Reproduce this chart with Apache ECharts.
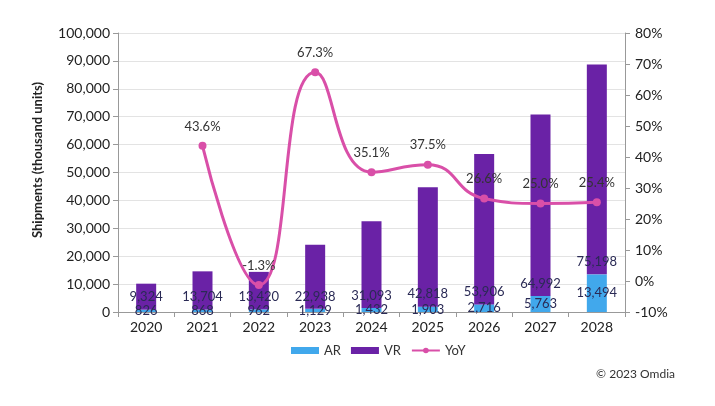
<!DOCTYPE html>
<html>
<head>
<meta charset="utf-8">
<script src="https://cdn.jsdelivr.net/npm/echarts@6/dist/echarts.min.js"></script>
<style>
html,body{margin:0;padding:0;background:#fff;}
#c{width:715px;height:406px;}
</style>
</head>
<body>
<div id="c"></div>
<script>
var years = ['2020','2021','2022','2023','2024','2025','2026','2027','2028'];
var arValues = [826, 868, 962, 1129, 1432, 1903, 2716, 5763, 13494];
var vrValues = [9324, 13704, 13420, 22938, 31093, 42818, 53906, 64992, 75198];
var yoyValues = [null, 43.6, -1.3, 67.3, 35.1, 37.5, 26.6, 25.0, 25.4];

var font = 'Lato';
var chart = echarts.init(document.getElementById('c'));
var fmt = function (v) { return v.toLocaleString('en-US'); };
chart.setOption({
  animation: false,
  textStyle: { fontFamily: font },
  grid: { left: 118, right: 90, top: 33, bottom: 94 },
  legend: {
    bottom: 44,
    left: 286,
    itemWidth: 28,
    itemHeight: 7,
    itemGap: 10,
    textStyle: { fontSize: 13, color: '#333', fontFamily: font },
    data: [
      { name: 'AR', icon: 'rect' },
      { name: 'VR', icon: 'rect' },
      { name: 'YoY' }
    ]
  },
  graphic: [{
    type: 'text', right: 40, top: 368,
    style: { text: '© 2023 Omdia', fontSize: 12, fill: '#333', fontFamily: font }
  }, {
    type: 'text', x: 38, y: 160, rotation: Math.PI / 2,
    style: { text: 'Shipments (thousand units)', fontSize: 13, fontWeight: 'bold',
      fill: '#222', fontFamily: font, align: 'center', verticalAlign: 'middle' }
  }],
  xAxis: {
    type: 'category',
    data: years,
    axisLine: { lineStyle: { color: '#999' } },
    axisTick: { show: true, lineStyle: { color: '#999' } },
    axisLabel: { fontSize: 14, color: '#222', margin: 8 }
  },
  yAxis: [{
    type: 'value',
    min: 0, max: 100000, interval: 10000,
    axisLine: { show: true, lineStyle: { color: '#999' } },
    axisTick: { show: true, lineStyle: { color: '#999' } },
    axisLabel: { fontSize: 14, color: '#222', formatter: fmt },
    splitLine: { lineStyle: { color: '#e3e3e3' } }
  }, {
    type: 'value',
    min: -10, max: 80, interval: 10,
    position: 'right',
    axisLine: { show: true, lineStyle: { color: '#999' } },
    axisTick: { show: true, lineStyle: { color: '#999' } },
    axisLabel: { fontSize: 14, color: '#222', formatter: '{value}%', margin: 10 },
    splitLine: { show: false }
  }],
  series: [{
    name: 'AR', type: 'bar', stack: 's', barWidth: 20,
    data: arValues,
    itemStyle: { color: '#41a8ec' },
    label: { show: true, position: 'inside', fontSize: 13, color: '#2a2a55',
      formatter: function (p) { return fmt(p.value); } }
  }, {
    name: 'VR', type: 'bar', stack: 's', barWidth: 20,
    data: vrValues,
    itemStyle: { color: '#6a22a6' },
    label: { show: true, position: 'insideBottom', distance: 6, fontSize: 13, color: '#2a2a55',
      formatter: function (p) { return fmt(p.value); } }
  }, {
    name: 'YoY', type: 'line', yAxisIndex: 1,
    data: yoyValues,
    smooth: 0.5,
    connectNulls: false,
    symbol: 'circle', symbolSize: 8,
    lineStyle: { color: '#d94fa8', width: 3 },
    itemStyle: { color: '#d94fa8' },
    label: { show: true, position: 'top', distance: 9, fontSize: 13, color: '#333',
      formatter: function (p) { return p.value == null ? '' : p.value.toFixed(1) + '%'; } }
  }]
});
</script>
</body>
</html>
